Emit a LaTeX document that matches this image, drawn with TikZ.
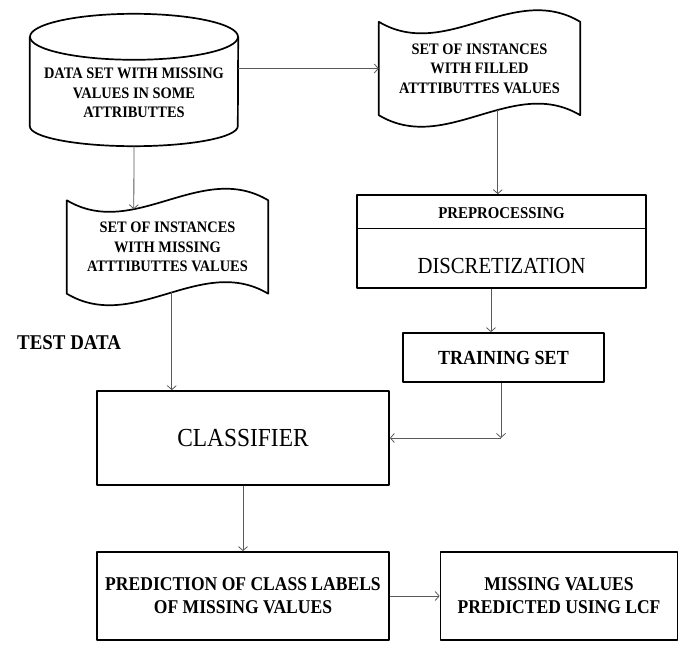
\documentclass[tikz,border=0pt]{standalone}
\usepackage{fontspec}
\setmainfont{Liberation Serif}[FakeStretch=0.9]
\usetikzlibrary{calc,arrows.meta}
% outline of a document (wavy top and bottom) around a node
\newcommand{\wavydoc}[1]{%
  \draw[boxline] (#1.north west) .. controls +(67,-40) and +(-67,40) .. (#1.north east)
    -- (#1.south east) .. controls +(-67,40) and +(67,-40) .. (#1.south west) -- cycle;}
\begin{document}
\begin{tikzpicture}[x=1pt,y=1pt,>={Straight Barb[length=4pt,width=9pt]},line join=round,
    boxline/.style={line width=1.7pt},
    box/.style={draw,boxline,align=center},
    plain/.style={align=center,inner sep=0pt},
    arr/.style={->,draw=black!65,line width=0.8pt},
    small/.style={font=\fontsize{16}{19.5}\selectfont\bfseries},
    mid/.style={font=\fontsize{19.5}{23}\selectfont\bfseries}]
\useasboundingbox (0,0) rectangle (684,645);
% data set (cylinder)
\node[plain,small,minimum width=208,minimum height=66] (data) at (134,552)
  {DATA SET WITH MISSING\\VALUES IN SOME\\ATTRIBUTTES};
\draw[boxline] ($(data.north west)+(0,23)$) -- (data.south west)
  arc[start angle=180,end angle=360,x radius=104,y radius=20] -- ($(data.north east)+(0,23)$);
\draw[boxline] ($(data.north)+(0,23)$) ellipse[x radius=104,y radius=23];
% documents
\node[plain,small,minimum width=201,minimum height=93] (filled) at (479.5,576.5)
  {SET OF INSTANCES\\WITH FILLED\\ATTTIBUTTES VALUES};
\wavydoc{filled}
\node[plain,small,minimum width=201,minimum height=93] (miss) at (167.5,398)
  {SET OF INSTANCES\\WITH MISSING\\ATTTIBUTTES VALUES};
\wavydoc{miss}
% preprocessing
\node[box,minimum width=289,minimum height=93] (prep) at (501.5,403.5) {};
\draw[line width=0.8pt] ($(prep.north west)+(0,-34)$) -- ($(prep.north east)+(0,-34)$);
\node[plain,font=\fontsize{16.5}{19}\selectfont\bfseries] (prepro) at ($(prep.north)+(0,-19)$) {PREPROCESSING};
\node[plain,font=\fontsize{23}{26}\selectfont] (disc) at ($(prep.south)+(0,23)$) {DISCRETIZATION};
\node[box,font=\fontsize{20}{23}\selectfont\bfseries,minimum width=201,minimum height=49] (train) at (503.5,287.5) {TRAINING SET};
\node[plain,font=\fontsize{21}{24}\selectfont\bfseries,anchor=west] (test) at (17,302) {TEST DATA};
\node[box,font=\fontsize{26}{30}\selectfont,minimum width=292,minimum height=94] (clf) at (243,207) {CLASSIFIER};
\node[box,mid,minimum width=292,minimum height=88] (pred) at (243,49)
  {PREDICTION OF CLASS LABELS\\OF MISSING VALUES};
\node[box,mid,minimum width=237,minimum height=88] (mv) at (559,49)
  {MISSING VALUES\\PREDICTED USING LCF};
% connectors
\coordinate (datab) at ($(data.south)+(0,-20)$);
\coordinate (misst) at ($(miss.north west)+(67,-8.9)$);
\coordinate (missb) at ($(miss.south west)+(105,1.3)$);
\coordinate (filledb) at ($(filled.south west)+(119,5.3)$);
\coordinate (prepb) at ($(prep.south)+(-10.5,0)$);
\coordinate (trainb) at ($(train.south)+(-2.5,0)$);
\coordinate (bend) at (trainb |- clf.east);
\draw[arr] (data.east |- filled.west) -- (filled.west);
\draw[arr] (datab) -- (misst);
\draw[arr] (missb) -- (missb |- clf.north);
\draw[arr] (filledb) -- (filledb |- prep.north);
\draw[arr] (prepb) -- (prepb |- train.north);
\draw[arr] (trainb) -- (bend);
\draw[arr] (bend) -- (clf.east);
\draw[arr] (clf.south) -- (pred.north);
\draw[arr] (pred.east) -- (mv.west);
\end{tikzpicture}
\end{document}
